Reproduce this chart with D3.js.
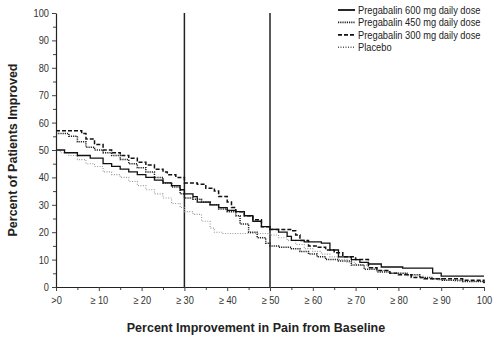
<!DOCTYPE html>
<html>
<head>
<meta charset="utf-8">
<script src="https://cdn.jsdelivr.net/npm/d3@7"></script>
<style>
  body { margin: 0; background: #fff; }
  text { font-family: "Liberation Sans Narrow", "Arial Narrow", "Liberation Sans", sans-serif; }
</style>
</head>
<body>
<div class="canvas"></div>
<script>
// improvement threshold (%) -> percent of patients (step curves)
const pct600 = [[0,50],[2,49],[5,48],[8,47],[11,45],[13,44],[15,43],[17,42],[19,41],[21,40],[23,39],[25,38],[27,37],[29,35.5],[30,34],[32,33],[33,31],[36,30],[38,29],[40,28],[42,27.5],[44,26],[46,24],[48,22],[50,21],[52,20],[54,18.5],[55,17],[58,16.5],[62,16],[64,13.5],[66,11],[69,10],[71,9],[73,8.4],[76,7.3],[81,6.9],[88,5.1],[90,4],[100,4]];
const pct450 = [[0,56],[3,55],[5,53],[7,51],[9,50],[11,49],[13,48],[15,46.5],[17,45],[19,43.5],[21,42],[23,40],[25,38],[27,36.5],[29,34],[30,32.5],[32,32],[34,31],[36,30],[38,28.5],[40,27.5],[42,26],[43,23],[45,20],[47,18],[49,16],[50,15],[52,14.5],[55,14],[57,13],[59,12],[61,11],[63,10],[66,9.5],[69,8],[72,6.5],[75,5.5],[78,5],[82,4.5],[85,3.5],[88,3],[90,2.5],[95,2],[100,1]];
const pct300 = [[0,57],[6,56],[7,54],[9,52],[11,50],[13,49],[15,48],[17,47],[19,45.5],[21,44.5],[23,43],[25,42],[26,41],[28,40],[30,38],[33,37.5],[35,36],[37,35],[38,33],[40,31],[41,29],[42,27.5],[44,26],[46,24.5],[48,22],[50,21],[55,20.5],[56,19],[57,17],[59,15],[61,14.5],[63,13.5],[65,12.5],[67,11],[70,10],[73,7],[75,6],[78,5],[80,4.5],[83,3.5],[86,3],[90,3],[95,2.5],[100,1.5]];
const pctPlacebo = [[0,50],[1,49],[3,48],[5,46.5],[7,45],[9,44],[11,42],[13,41],[15,40],[17,38.5],[19,37],[21,35.5],[23,34],[25,32.5],[27,30.5],[29,29],[30,27.5],[32,26.5],[34,24],[36,21.5],[37,20],[39,19.5],[45,19.5],[50,19],[52,18],[54,17],[56,15.5],[58,14],[60,13],[62,12],[64,11],[66,10],[68,9],[70,8],[73,7],[75,6],[78,5],[82,4],[86,3],[89,2.5],[93,2],[100,1.5]];

const seriesNames = ['Pregabalin 600 mg daily dose','Pregabalin 450 mg daily dose','Pregabalin 300 mg daily dose','Placebo'];
const seriesData = [pct600, pct450, pct300, pctPlacebo];
const seriesStyle = [
  {stroke:'#111', width:1.3, dash:null},
  {stroke:'#222', width:1.5, dash:'1.2,1'},
  {stroke:'#111', width:1.5, dash:'4,2'},
  {stroke:'#999', width:1.1, dash:'1,1.5'}
];

const xTicks = [0,10,20,30,40,50,60,70,80,90,100];
const xTickLabels = ['>0','\u2265 10','\u2265 20','\u2265 30','\u2265 40','\u2265 50','\u2265 60','\u2265 70','\u2265 80','\u2265 90','100'];
const yTicks = [0,10,20,30,40,50,60,70,80,90,100];
const refLines = [30, 50];

const width = 499, height = 342;
const margin = {top: 13, right: 15, bottom: 55, left: 56};

const svg = d3.select('.canvas')
  .append('svg')
  .attr('width', width)
  .attr('height', height);

const x = d3.scaleLinear().domain([0, 100]).range([margin.left, width - margin.right]);
const y = d3.scaleLinear().domain([0, 100]).range([height - margin.bottom, margin.top]);

// condensed look of the original font
function squeeze(factor) {
  return sel => sel.each(function() {
    const w = this.getComputedTextLength();
    d3.select(this).attr('textLength', w * factor).attr('lengthAdjust', 'spacingAndGlyphs');
  });
}

// minor ticks
const minor = d3.range(5, 100, 10);
svg.append('g')
  .attr('transform', `translate(0,${y(0)})`)
  .call(d3.axisBottom(x).tickValues(minor).tickSize(3).tickFormat(''))
  .call(g => g.select('.domain').remove());
svg.append('g')
  .attr('transform', `translate(${x(0)},0)`)
  .call(d3.axisLeft(y).tickValues(minor).tickSize(3).tickFormat(''))
  .call(g => g.select('.domain').remove());

const xAxis = svg.append('g')
  .attr('transform', `translate(0,${y(0)})`)
  .call(d3.axisBottom(x).tickValues(xTicks).tickSize(4).tickSizeOuter(0)
    .tickFormat((d, i) => xTickLabels[i]));
xAxis.selectAll('text').attr('font-size', 11).attr('fill', '#333').attr('dy', '0.9em').call(squeeze(0.84));

const yAxis = svg.append('g')
  .attr('transform', `translate(${x(0)},0)`)
  .call(d3.axisLeft(y).tickValues(yTicks).tickSize(4).tickSizeOuter(0));
yAxis.selectAll('text').attr('font-size', 11).attr('fill', '#333').call(squeeze(0.84));

svg.selectAll('.domain').attr('stroke', '#222').attr('stroke-width', 1.2);
svg.selectAll('.tick line').attr('stroke', '#444');

// reference lines
svg.selectAll('.ref')
  .data(refLines)
  .enter().append('line')
  .attr('x1', d => x(d)).attr('x2', d => x(d))
  .attr('y1', y(0)).attr('y2', y(100))
  .attr('stroke', '#222')
  .attr('stroke-width', 1.5);

const line = d3.line()
  .x(d => x(d[0]))
  .y(d => y(d[1]))
  .curve(d3.curveStepAfter);

seriesData.slice().reverse().forEach((data, j) => {
  const i = seriesData.length - 1 - j;
  svg.append('path')
    .attr('d', line(data))
    .attr('fill', 'none')
    .attr('stroke', seriesStyle[i].stroke)
    .attr('stroke-width', seriesStyle[i].width)
    .attr('stroke-dasharray', seriesStyle[i].dash);
});

// legend
const legend = svg.append('g').attr('transform', 'translate(338,10)');
seriesNames.forEach((name, i) => {
  const row = legend.append('g').attr('transform', `translate(0,${i * 12.4})`);
  row.append('line')
    .attr('x1', 0).attr('x2', 17)
    .attr('stroke', i === 3 ? '#555' : seriesStyle[i].stroke)
    .attr('stroke-width', i === 0 ? 1.8 : seriesStyle[i].width + 0.3)
    .attr('stroke-dasharray', seriesStyle[i].dash);
  row.append('text')
    .attr('x', 20).attr('y', 4)
    .attr('font-size', 10)
    .attr('fill', '#222')
    .text(name)
    .call(squeeze(0.93));
});

// axis titles
svg.append('text')
  .attr('transform', `translate(17,${(y(0) + y(100)) / 2}) rotate(-90)`)
  .attr('text-anchor', 'middle')
  .style('font-family', '"Liberation Sans", Arial, sans-serif')
  .attr('font-weight', 'bold')
  .attr('font-size', 12.5)
  .attr('fill', '#222')
  .text('Percent of Patients Improved');

svg.append('text')
  .attr('x', 256)
  .attr('y', 332)
  .attr('text-anchor', 'middle')
  .style('font-family', '"Liberation Sans", Arial, sans-serif')
  .attr('font-weight', 'bold')
  .attr('font-size', 12.5)
  .attr('fill', '#222')
  .text('Percent Improvement in Pain from Baseline');
</script>
</body>
</html>
